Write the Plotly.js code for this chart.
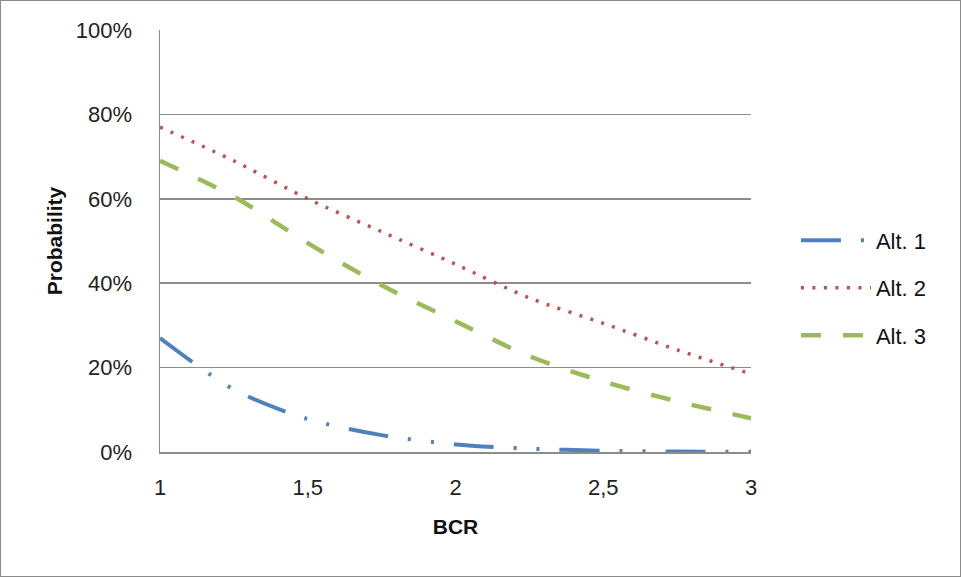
<!DOCTYPE html>
<html>
<head>
<meta charset="utf-8">
<script src="https://cdn.plot.ly/plotly-3.0.1.min.js"></script>
<style>
  html, body { margin: 0; padding: 0; background: #fff; }
  #chart { width: 959px; height: 575px; border: 1px solid #8c8c8c; }
</style>
</head>
<body>
<div id="chart"></div>
<script>
const bcr = [1, 1.25, 1.5, 1.75, 2, 2.25, 2.5, 2.75, 3];
const alt1 = [0.27, 0.148, 0.078, 0.040, 0.018, 0.008, 0.003, 0.001, 0.0005];
const alt2 = [0.77, 0.69, 0.60, 0.522, 0.445, 0.365, 0.305, 0.242, 0.185];
const alt3 = [0.69, 0.605, 0.495, 0.395, 0.31, 0.227, 0.167, 0.12, 0.08];
const seriesNames = ['Alt. 1', 'Alt. 2', 'Alt. 3'];
const xTickVals = [1, 1.5, 2, 2.5, 3];
const xTickText = ['1', '1,5', '2', '2,5', '3'];

const font = 'Liberation Sans, Arial, sans-serif';

const traces = [
  {x: bcr, y: alt1, name: seriesNames[0], legendgroup: 'a1', mode: 'lines',
   line: {color: '#4F81BD', width: 4, dash: '40px,20px,3px,20px,3px,20px', shape: 'spline', smoothing: 0.8}},
  {x: bcr, y: alt2, name: seriesNames[1], legendgroup: 'a2', mode: 'lines',
   line: {color: '#C0504D', width: 3.5, dash: '3px,8.5px', shape: 'spline', smoothing: 0.8}},
  {x: bcr, y: alt3, name: seriesNames[2], legendgroup: 'a3', mode: 'lines',
   line: {color: '#9BBB59', width: 4.5, dash: '20px,22px', shape: 'spline', smoothing: 0.8}}
];

const layout = {
  width: 959, height: 575,
  margin: {l: 159, r: 209, t: 29, b: 124},
  paper_bgcolor: '#fff', plot_bgcolor: '#fff',
  font: {family: font, size: 22, color: '#222'},
  showlegend: true,
  legend: {x: 1.076, xanchor: 'left', y: 0.389, yanchor: 'middle',
           font: {family: font, size: 22, color: '#111'},
           itemwidth: 70,
           traceorder: 'grouped', tracegroupgap: 16, bgcolor: 'rgba(0,0,0,0)'},
  xaxis: {range: [1, 3], tickvals: xTickVals, ticktext: xTickText,
          showgrid: false, zeroline: false, showline: true, linecolor: '#8c8c8c', linewidth: 1.5,
          ticks: '', ticklabelstandoff: 15,
          title: {text: '<b>BCR</b>', font: {family: font, size: 21, color: '#111'}, standoff: 20}},
  yaxis: {range: [0, 1], dtick: 0.2, tickformat: '.0%',
          showgrid: true, gridcolor: '#8c8c8c', gridwidth: 1.5, zeroline: false,
          showline: true, linecolor: '#8c8c8c', linewidth: 1.5,
          ticks: '', ticklabelstandoff: 22,
          title: {text: '<b>Probability</b>', font: {family: font, size: 21, color: '#111'}, standoff: 7}}
};

Plotly.newPlot('chart', traces, layout, {displayModeBar: false, staticPlot: true});
</script>
</body>
</html>
